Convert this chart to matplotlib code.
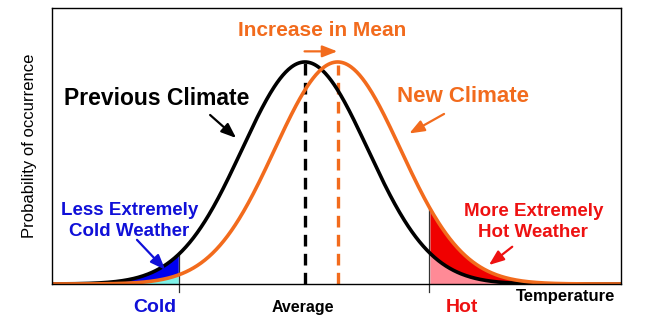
import numpy as np
import matplotlib.pyplot as plt

plt.rcParams['font.family'] = ['Liberation Sans', 'DejaVu Sans']

# temperature in units of the spread, previous mean at 0
mean_prev = 0.0
mean_new = 0.52
sigma = 1.0
cold_limit = -2.0
hot_limit = 1.98
x_range = (-4.02, 5.02)

ORANGE = '#F26B1D'
BLUE = '#1010D8'
RED = '#EE1111'


def bell(x, mu):
    return np.exp(-0.5 * ((x - mu) / sigma) ** 2) / (sigma * np.sqrt(2 * np.pi))


x = np.linspace(x_range[0], x_range[1], 600)
y_prev = bell(x, mean_prev)
y_new = bell(x, mean_new)

fig = plt.figure(figsize=(6.5, 3.31), dpi=100)
ax = fig.add_axes([0.08, 0.142, 0.875, 0.834])
ax.set_xlim(*x_range)
ax.set_ylim(0, 0.496)

# shaded tails
cold = x <= cold_limit
hot = x >= hot_limit
ax.fill_between(x[cold], 0, y_new[cold], color='#7FF3EA', lw=0)
ax.fill_between(x[cold], y_new[cold], y_prev[cold], color='#0000F0', lw=0)
ax.fill_between(x[hot], 0, y_prev[hot], color='#FF8A96', lw=0)
ax.fill_between(x[hot], y_prev[hot], y_new[hot], color='#F00000', lw=0)

# threshold markers
for t in (cold_limit, hot_limit):
    top = max(bell(t, mean_prev), bell(t, mean_new))
    ax.plot([t, t], [-0.015, top], color='#333333', lw=0.9, clip_on=False)

# means
ax.plot([mean_prev, mean_prev], [0, bell(mean_prev, mean_prev)], color='black',
        lw=2.4, ls=(0, (3.5, 2.2)))
ax.plot([mean_new, mean_new], [0, bell(mean_new, mean_new) - 0.006], color=ORANGE,
        lw=2.4, ls=(0, (3.5, 2.2)))

ax.plot(x, y_prev, color='black', lw=2.6)
ax.plot(x, y_new, color=ORANGE, lw=2.6)

ax.set_xticks([])
ax.set_yticks([])
for s in ax.spines.values():
    s.set_linewidth(1.0)

ax.set_ylabel('Probability of occurrence', fontsize=12, labelpad=11)

# labels along the temperature axis
ax.text(-2.38, -0.043, 'Cold', color=BLUE, fontsize=14, fontweight='bold',
        ha='center', va='center', clip_on=False)
ax.text(-0.03, -0.043, 'Average', color='black', fontsize=11.5, fontweight='bold',
        ha='center', va='center', clip_on=False)
ax.text(2.5, -0.043, 'Hot', color=RED, fontsize=14, fontweight='bold',
        ha='center', va='center', clip_on=False)
ax.text(4.15, -0.023, 'Temperature', color='black', fontsize=12, fontweight='bold',
        ha='center', va='center', clip_on=False)

# annotations
bold = dict(fontweight='bold', ha='center', va='center')
ax.text(-2.36, 0.334, 'Previous Climate', color='black', fontsize=16.5, **bold)
ax.text(0.27, 0.456, 'Increase in Mean', color=ORANGE, fontsize=15, **bold)
ax.text(2.52, 0.336, 'New Climate', color=ORANGE, fontsize=16, **bold)
ax.text(-2.79, 0.114, 'Less Extremely\nCold Weather', color=BLUE, fontsize=13.5,
        linespacing=1.3, **bold)
ax.text(3.63, 0.112, 'More Extremely\nHot Weather', color=RED, fontsize=13.5,
        linespacing=1.3, **bold)

arrow = dict(arrowstyle='-|>,head_length=0.9,head_width=0.35', lw=1.6)
ax.annotate('', xy=(-1.06, 0.259), xytext=(-1.54, 0.307),
            arrowprops=dict(color='black', **arrow))
ax.annotate('', xy=(1.62, 0.268), xytext=(2.25, 0.308),
            arrowprops=dict(color=ORANGE, **arrow))
ax.annotate('', xy=(-2.19, 0.022), xytext=(-2.70, 0.083),
            arrowprops=dict(color=BLUE, **arrow))
ax.annotate('', xy=(2.89, 0.031), xytext=(3.33, 0.070),
            arrowprops=dict(color=RED, **arrow))
ax.annotate('', xy=(0.56, 0.418), xytext=(-0.05, 0.418),
            arrowprops=dict(color=ORANGE, **arrow))

fig.savefig('out.png', dpi=100)
